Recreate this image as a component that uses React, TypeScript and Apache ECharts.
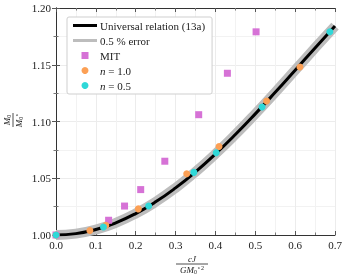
import React, { useEffect, useRef } from "react";
import * as echarts from "echarts";

const curveX = [0, 0.05, 0.1, 0.15, 0.2, 0.25, 0.3, 0.35, 0.4, 0.45, 0.5, 0.55, 0.6, 0.65, 0.7];
const curveY = [1.0, 1.0012, 1.0048, 1.0107, 1.0189, 1.0292, 1.0415, 1.0556, 1.0714, 1.0885, 1.1067, 1.1257, 1.1452, 1.1648, 1.1841];

const mitX = [0.0, 0.132, 0.172, 0.2125, 0.273, 0.358, 0.43, 0.502];
const mitY = [1.0, 1.013, 1.0255, 1.04, 1.065, 1.106, 1.1425, 1.179];

const n10X = [0.0, 0.085, 0.125, 0.2065, 0.328, 0.409, 0.5285, 0.612];
const n10Y = [1.0, 1.004, 1.0085, 1.023, 1.054, 1.078, 1.118, 1.148];

const n05X = [0.0, 0.119, 0.2325, 0.346, 0.402, 0.517, 0.687];
const n05Y = [1.0, 1.007, 1.0255, 1.0552, 1.0725, 1.1128, 1.179];

const legendNames = ["Universal relation (13a)", "0.5 % error", "MIT", "n = 1.0", "n = 0.5"];

const SERIF = "Liberation Serif";
const LINE_ICON = "path://M0 0h24v3H0z";
const SQUARE_ICON = "path://M0 0h10v10H0z";

const zip = (xs: number[], ys: number[]) => xs.map((x, i) => [x, ys[i]]);

export default function App() {
  const ref = useRef<HTMLDivElement>(null);
  useEffect(() => {
    const chart = echarts.init(ref.current!, null, { renderer: "svg" });
    const axisCommon = {
      axisLine: { show: true, lineStyle: { color: "#333", width: 1 } },
      axisTick: { show: true, inside: true, length: 4, lineStyle: { color: "#555" } },
      minorTick: { show: true, splitNumber: 2, length: 2.5, lineStyle: { color: "#777" } },
    };
    chart.setOption({
      animation: false,
      grid: { left: 56, right: 11, top: 8, bottom: 43 },
      xAxis: [
        {
          type: "value", min: 0, max: 0.7, interval: 0.1, position: "bottom",
          ...axisCommon,
          axisLabel: { fontFamily: SERIF, fontSize: 11, color: "#222", margin: 4, formatter: (v: number) => v.toFixed(1) },
          splitLine: { show: true, lineStyle: { color: "#ececec", width: 1 } },
          minorSplitLine: { show: true, lineStyle: { color: "#f2f2f2", width: 1 } },
        },
        {
          type: "value", min: 0, max: 0.7, interval: 0.1, position: "top",
          ...axisCommon, axisLabel: { show: false }, splitLine: { show: false },
        },
      ],
      yAxis: [
        {
          type: "value", min: 1.0, max: 1.2, interval: 0.05, position: "left",
          ...axisCommon,
          axisLabel: { fontFamily: SERIF, fontSize: 11, color: "#222", margin: 5, formatter: (v: number) => v.toFixed(2) },
          splitLine: { show: true, lineStyle: { color: "#ececec", width: 1 } },
          minorSplitLine: { show: true, lineStyle: { color: "#f2f2f2", width: 1 } },
        },
        {
          type: "value", min: 1.0, max: 1.2, interval: 0.05, position: "right",
          ...axisCommon, axisLabel: { show: false }, splitLine: { show: false },
        },
      ],
      legend: {
        left: 67, top: 17, orient: "vertical",
        backgroundColor: "#fff", borderColor: "#cfcfcf", borderWidth: 1, borderRadius: 2,
        padding: [3, 7, 3, 6], itemWidth: 24, itemHeight: 7, itemGap: 4,
        textStyle: {
          fontFamily: SERIF, fontSize: 11, color: "#222", padding: [0, 0, 0, -2],
          rich: {
            i: { fontFamily: SERIF, fontSize: 11, fontStyle: "italic", color: "#222" },
          },
        },
        formatter: (name: string) => name.startsWith("n = ") ? "{i|n} " + name.slice(2) : name,
        data: [
          { name: legendNames[0], icon: LINE_ICON, itemStyle: { color: "#000" } },
          { name: legendNames[1], icon: LINE_ICON, itemStyle: { color: "#bdbdbd" } },
          { name: legendNames[2], icon: SQUARE_ICON },
          { name: legendNames[3], icon: "circle" },
          { name: legendNames[4], icon: "circle" },
        ],
      },
      series: [
        {
          name: legendNames[0], type: "line", data: zip(curveX, curveY), smooth: true, showSymbol: false,
          lineStyle: { color: "#000", width: 3 }, itemStyle: { color: "#000" }, z: 3,
        },
        {
          name: legendNames[1], type: "line", data: zip(curveX, curveY), smooth: true, showSymbol: false,
          lineStyle: { color: "#bdbdbd", width: 10 }, itemStyle: { color: "#bdbdbd" }, z: 2,
        },
        {
          name: legendNames[2], type: "scatter", data: zip(mitX, mitY), symbol: "rect", symbolSize: 7,
          itemStyle: { color: "#d672d6", opacity: 1 }, z: 4,
        },
        {
          name: legendNames[3], type: "scatter", data: zip(n10X, n10Y), symbol: "circle", symbolSize: 7,
          itemStyle: { color: "#fca055", opacity: 1 }, z: 5,
        },
        {
          name: legendNames[4], type: "scatter", data: zip(n05X, n05Y), symbol: "circle", symbolSize: 7,
          itemStyle: { color: "#2fd8d8", opacity: 1 }, z: 6,
        },
      ],
      graphic: [
        {
          type: "group", x: 13, y: 120, rotation: Math.PI / 2,
          children: [
            { type: "line", shape: { x1: -7, y1: 0, x2: 7, y2: 0 }, style: { stroke: "#222", lineWidth: 0.8 } },
            {
              type: "text", x: 0, y: -1,
              style: {
                text: "{i|M}{s|0}", align: "center", verticalAlign: "bottom",
                rich: { i: { fontFamily: SERIF, fontStyle: "italic", fontSize: 9, fill: "#222" }, s: { fontFamily: SERIF, fontSize: 6, fill: "#222", padding: [4, 0, 0, 0] } },
              },
            },
            {
              type: "text", x: 0, y: 1,
              style: {
                text: "{i|M}{s|0}{p|⋆}", align: "center", verticalAlign: "top",
                rich: { i: { fontFamily: SERIF, fontStyle: "italic", fontSize: 9, fill: "#222" }, s: { fontFamily: SERIF, fontSize: 6, fill: "#222", padding: [4, 0, 0, 0] }, p: { fontFamily: SERIF, fontSize: 6, fill: "#222", padding: [0, 0, 4, 0] } },
              },
            },
          ],
        },
        {
          type: "group", x: 192, y: 264,
          children: [
            { type: "line", shape: { x1: -16, y1: 0, x2: 16, y2: 0 }, style: { stroke: "#222", lineWidth: 0.8 } },
            {
              type: "text", x: 0, y: -1,
              style: { text: "cJ", align: "center", verticalAlign: "bottom", fontFamily: SERIF, fontStyle: "italic", fontSize: 9, fill: "#222" },
            },
            {
              type: "text", x: 0, y: 1,
              style: {
                text: "{i|GM}{s|0}{p|⋆2}", align: "center", verticalAlign: "top",
                rich: { i: { fontFamily: SERIF, fontStyle: "italic", fontSize: 9, fill: "#222" }, s: { fontFamily: SERIF, fontSize: 6, fill: "#222", padding: [4, 0, 0, 0] }, p: { fontFamily: SERIF, fontSize: 6, fill: "#222", padding: [0, 0, 4, 0] } },
              },
            },
          ],
        },
      ],
    });
    return () => chart.dispose();
  }, []);
  return <div ref={ref} style={{ position: "fixed", left: 0, top: 0, width: 346, height: 278 }} />;
}
